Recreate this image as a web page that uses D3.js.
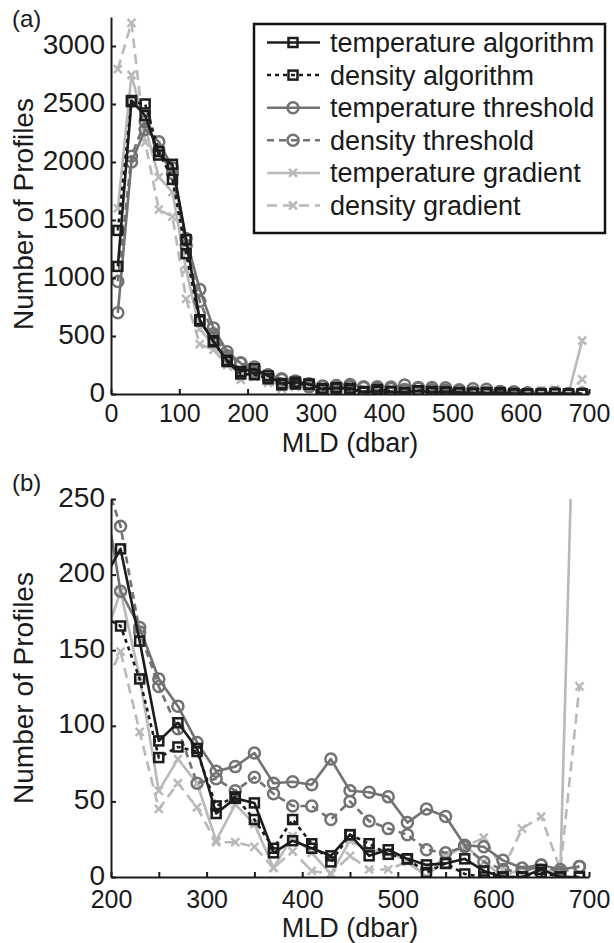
<!DOCTYPE html>
<html lang="en">
<head>
  <meta charset="UTF-8">
  <title>MLD distributions</title>
  <script src="https://d3js.org/d3.v7.min.js" charset="utf-8"></script>
  <style>
    body { margin: 0; background: #fff; }
    text { font-family: "Liberation Sans", Arial, sans-serif; fill: #1a1a1a; }
  </style>
</head>
<body>
  <svg id="chart"></svg>
  <script>
    // bin centres (dbar)
    const mld = [10,30,50,70,90,110,130,150,170,190,210,230,250,270,290,310,330,350,370,390,
                 410,430,450,470,490,510,530,550,570,590,610,630,650,670,690];

    const tempAlg = [1100,2530,2400,2060,1980,1330,640,450,290,194, 217,156,90,102,85,42,52,49,16,24,
                     19,14,28,14,18,12,8,9,12,4, 0,0,5,0,0];
    const densAlg = [1410,2520,2500,2090,1850,1210,630,460,280,173, 166,131,79,86,83,47,53,38,19,38,
                     22,10,28,22,15,12,3,9,2,0, 0,0,3,0,0];
    const tempThr = [700,2000,2280,2175,1950,1340,900,570,365,265, 189,165,131,113,89,70,73,82,62,63,
                     61,78,57,56,53,36,45,40,21,20, 11,6,8,5,7];
    const densThr = [970,2050,2350,2100,1900,1280,800,520,330,270, 232,162,126,98,62,65,57,66,55,47,
                     47,38,50,37,32,28,18,16,20,10, 5,3,8,3,7];
    const tempGrad = [1600,2750,2300,1870,1740,1070,560,420,280,151, 189,132,57,78,62,24,48,35,6,27,
                      16,2,24,18,16,11,0,13,21,10, 0,6,5,3,460];
    const densGrad = [2800,3200,2170,1590,1530,820,430,380,250,122, 149,96,45,62,46,23,23,20,6,17,
                      4,2,14,5,5,10,0,15,20,26, 5,32,40,5,126];

    const names = ["temperature algorithm", "density algorithm", "temperature threshold",
                   "density threshold", "temperature gradient", "density gradient"];

    const xTicksA = [0,100,200,300,400,500,600,700];
    const yTicksA = [0,500,1000,1500,2000,2500,3000];
    const xTicksB = [200,250,300,350,400,450,500,550,600,650,700];
    const yTicksB = [0,50,100,150,200,250];

    const black = "#1c1c1c", dark = "#727272", light = "#b9b9b9";

    // drawing order: light first, black on top
    const series = [
      {name: names[5], values: densGrad, color: light, dash: "10,6", marker: "x"},
      {name: names[4], values: tempGrad, color: light, dash: null, marker: "x"},
      {name: names[3], values: densThr, color: dark, dash: "7,5", marker: "o"},
      {name: names[2], values: tempThr, color: dark, dash: null, marker: "o"},
      {name: names[1], values: densAlg, color: black, dash: "4,4", marker: "s"},
      {name: names[0], values: tempAlg, color: black, dash: null, marker: "s"}
    ];

    const svg = d3.select("#chart").attr("width", 614).attr("height", 943);

    function marker(sel, type, color) {
      if (type === "s") {
        sel.append("rect").attr("x", -4.5).attr("y", -4.5).attr("width", 9).attr("height", 9)
          .attr("fill", "none").attr("stroke", color).attr("stroke-width", 2.5);
      } else if (type === "o") {
        sel.append("circle").attr("r", 5.5).attr("fill", "none")
          .attr("stroke", color).attr("stroke-width", 2.5);
      } else {
        sel.append("path").attr("d", "M-4,-4L4,4M-4,4L4,-4")
          .attr("fill", "none").attr("stroke", color).attr("stroke-width", 2.5);
      }
    }

    function draw(g, p) {
      const x = d3.scaleLinear().domain(p.xDomain).range([111, 589]);
      const y = d3.scaleLinear().domain(p.yDomain).range([p.bottom, p.top]);

      const clipId = "clip" + p.id;
      svg.append("clipPath").attr("id", clipId).append("rect")
        .attr("x", 111).attr("y", p.top).attr("width", 478).attr("height", p.bottom - p.top);

      const plot = g.append("g").attr("clip-path", `url(#${clipId})`);
      const line = d3.line().x(d => x(d[0])).y(d => y(d[1]));

      series.forEach(s => {
        const pts = mld.map((m, i) => [m, s.values[i]]);
        plot.append("path").attr("d", line(pts))
          .attr("fill", "none").attr("stroke", s.color).attr("stroke-width", 2.6)
          .attr("stroke-linejoin", "round")
          .attr("stroke-dasharray", s.dash);
        plot.selectAll(null).data(pts).enter().append("g")
          .attr("transform", d => `translate(${x(d[0])},${y(d[1])})`)
          .each(function() { marker(d3.select(this), s.marker, s.color); });
      });

      const xAxis = d3.axisBottom(x).tickValues(p.xTicks).tickSizeInner(-5).tickSizeOuter(0)
        .tickPadding(p.xPad).tickFormat(d => d % 100 === 0 ? d : "");
      const yAxis = d3.axisLeft(y).tickValues(p.yTicks).tickSizeInner(-5).tickSizeOuter(0)
        .tickPadding(6).tickFormat(d3.format("d"));

      const gx = g.append("g").attr("transform", `translate(0,${p.bottom})`).call(xAxis);
      const gy = g.append("g").attr("transform", "translate(111,0)").call(yAxis);
      [gx, gy].forEach(a => {
        a.attr("font-family", null);
        a.selectAll("path, line").attr("stroke", "#1a1a1a").attr("stroke-width", 2);
        a.selectAll("text").attr("fill", "#1a1a1a");
      });
      gx.selectAll("text").attr("font-size", 25);
      gy.selectAll("text").attr("font-size", 28).attr("dy", "0.25em");

      g.append("text").attr("x", 350).attr("y", p.titleY).attr("text-anchor", "middle")
        .attr("font-size", 27).text("MLD (dbar)");
      g.append("text").attr("transform", `translate(33,${p.ylabY}) rotate(-90)`)
        .attr("text-anchor", "middle").attr("font-size", 28).text("Number of Profiles");
      g.append("text").attr("x", 12).attr("y", p.tagY).attr("font-size", 24).text(p.tag);
    }

    draw(svg.append("g"), {id: "a", tag: "(a)", tagY: 27, xDomain: [0, 700], yDomain: [0, 3250],
      top: 17, bottom: 394, xTicks: xTicksA, yTicks: yTicksA, xPad: 10, titleY: 452, ylabY: 214});
    draw(svg.append("g"), {id: "b", tag: "(b)", tagY: 491, xDomain: [200, 700], yDomain: [0, 250],
      top: 499, bottom: 877, xTicks: xTicksB, yTicks: yTicksB, xPad: 13, titleY: 937, ylabY: 688});

    // legend
    const lg = svg.append("g");
    lg.append("rect").attr("x", 254).attr("y", 24).attr("width", 351).attr("height", 209)
      .attr("fill", "#fff").attr("stroke", "#111").attr("stroke-width", 2.5);
    names.forEach((n, i) => {
      const s = series.find(d => d.name === n);
      const by = 52 + i * 32.6;
      lg.append("line").attr("x1", 267).attr("x2", 320).attr("y1", by - 9.5).attr("y2", by - 9.5)
        .attr("stroke", s.color).attr("stroke-width", 2.5).attr("stroke-dasharray", s.dash);
      lg.append("g").attr("transform", `translate(293,${by - 9.5})`)
        .each(function() { marker(d3.select(this), s.marker, s.color); });
      lg.append("text").attr("x", 330).attr("y", by).attr("font-size", 27).text(n);
    });
  </script>
</body>
</html>
